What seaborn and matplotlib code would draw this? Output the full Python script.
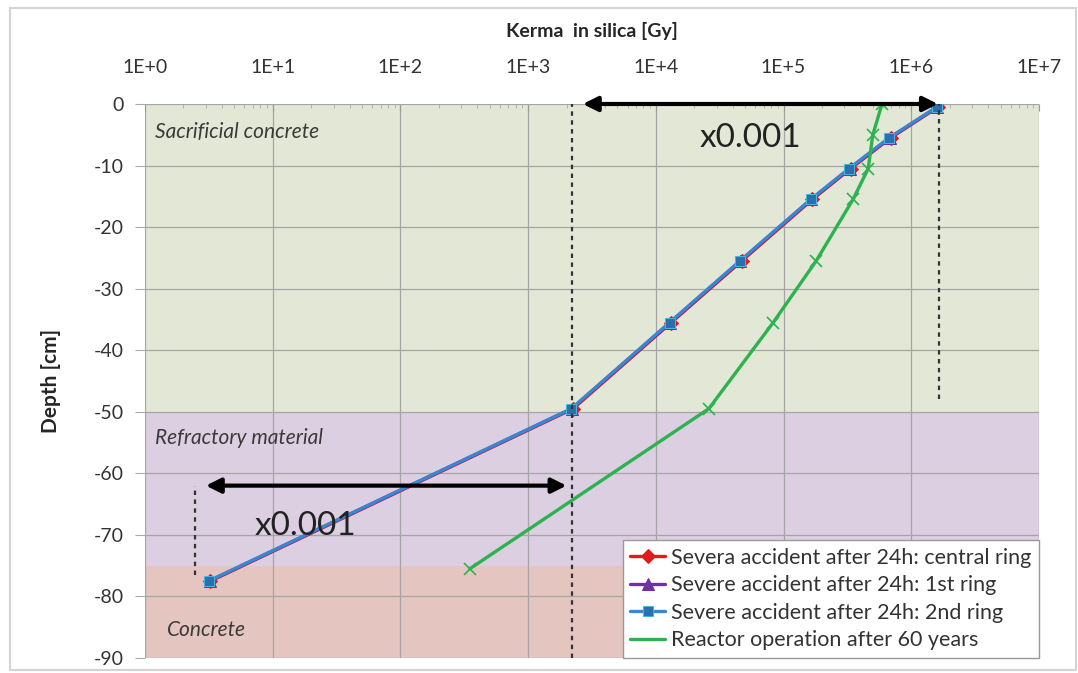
"""Kerma in silica vs depth through the core catcher layers."""
import numpy as np
import matplotlib
import seaborn as sns
from matplotlib import pyplot as plt
from matplotlib.patches import Rectangle
from matplotlib.ticker import FuncFormatter, LogLocator, MultipleLocator

sns.set_style("white")
plt.rcParams["font.family"] = ["Lato", "DejaVu Sans"]
plt.rcParams["axes.unicode_minus"] = False

# data
depth_central = [-0.5, -5.5, -10.5, -15.5, -25.5, -35.5, -49.5, -77.5]
kerma_central = [1.62e6, 6.9e5, 3.35e5, 1.68e5, 4.7e4, 1.32e4, 2.25e3, 3.25]
depth_ring1 = [-0.5, -5.5, -10.5, -15.5, -25.5, -35.5, -49.5, -77.5]
kerma_ring1 = [1.6e6, 6.8e5, 3.3e5, 1.65e5, 4.6e4, 1.3e4, 2.2e3, 3.2]
depth_ring2 = [-0.5, -5.5, -10.5, -15.5, -25.5, -35.5, -49.5, -77.5]
kerma_ring2 = [1.58e6, 6.7e5, 3.25e5, 1.63e5, 4.55e4, 1.28e4, 2.18e3, 3.15]
depth_reactor = [0, -5, -10.5, -15.5, -25.5, -35.5, -49.5, -75.5]
kerma_reactor = [5.9e5, 5.0e5, 4.6e5, 3.5e5, 1.8e5, 8.3e4, 2.6e4, 350]

kerma_ticks = [1, 1e1, 1e2, 1e3, 1e4, 1e5, 1e6, 1e7]
labels = [
    "Severa accident after 24h: central ring",
    "Severe accident after 24h: 1st ring",
    "Severe accident after 24h: 2nd ring",
    "Reactor operation after 60 years",
]
layers = [("Sacrificial concrete", 0, -50), ("Refractory material", -50, -75),
          ("Concrete", -75, -90)]
layer_colors = ["#e3e8d6", "#dccfe1", "#e5c5bf"]

fig = plt.figure(figsize=(10.78, 6.73), dpi=100)
ax = fig.add_axes([0.1345, 0.0223, 0.8293, 0.8232])

for (name, top, bottom), col in zip(layers, layer_colors):
    ax.axhspan(bottom, top, color=col, zorder=0, lw=0)

line_kw = dict(estimator=None, sort=False, ax=ax, linewidth=2.4)
sns.lineplot(x=kerma_central, y=depth_central, color="#e31a1c", marker="D",
             markersize=7, markeredgecolor="#e31a1c", label=labels[0], **line_kw)
sns.lineplot(x=kerma_ring1, y=depth_ring1, color="#7030a0", marker="^",
             markersize=8, markeredgecolor="#7030a0", label=labels[1], **line_kw)
sns.lineplot(x=kerma_ring2, y=depth_ring2, color="#3a86d0", marker="s",
             markersize=7, markerfacecolor="#2a6fae", markeredgecolor="#49b4e0",
             label=labels[2], **line_kw)
sns.lineplot(x=kerma_reactor, y=depth_reactor, color="#2cb24e", marker="x",
             markersize=8, markeredgecolor="#2cb24e", markeredgewidth=1.2,
             label=labels[3], **line_kw)

ax.set_xscale("log")
ax.set_xlim(1, 1e7)
ax.set_ylim(-90, 0)

# dashed guides and x0.001 arrows
guide_kw = dict(colors="#333333", linestyles=(0, (2, 2)), linewidth=1.6, zorder=3)
ax.vlines(2200, -90, 0, **guide_kw)
ax.vlines(1.65e6, -48, 0, **guide_kw)
ax.vlines(2.45, -76.5, -62, **guide_kw)
arrow_kw = dict(arrowstyle="<|-|>", color="black", lw=3, mutation_scale=22)
ax.annotate("", xy=(1.7e6, 0), xytext=(2550, 0), arrowprops=arrow_kw,
            annotation_clip=False, zorder=5)
ax.annotate("", xy=(2100, -62), xytext=(2.85, -62), arrowprops=arrow_kw, zorder=5)
ax.text(5.5e4, -5.5, "x0.001", fontsize=24, color="#222222", ha="center", va="center", zorder=6)
ax.text(18, -68.5, "x0.001", fontsize=24, color="#222222", ha="center", va="center", zorder=6)

for (name, top, bottom), xpos, ypos in zip(layers, [1.2, 1.2, 1.48], [-4.5, -54.3, -85.5]):
    ax.text(xpos, ypos, name, fontsize=15, style="italic", color="#3a3a3a",
            va="center", ha="left", zorder=6)

# axes styling
ax.xaxis.tick_top()
ax.xaxis.set_label_position("top")
ax.set_xticks(kerma_ticks)
ax.xaxis.set_minor_locator(LogLocator(base=10, subs=np.arange(2, 10), numticks=20))
ax.xaxis.set_major_formatter(FuncFormatter(lambda v, p: f"1E+{int(round(np.log10(v)))}"))
ax.yaxis.set_major_locator(MultipleLocator(10))
ax.tick_params(axis="x", which="major", direction="in", length=5, pad=20,
               labelsize=14, color="#999999", labelcolor="#333333")
ax.tick_params(axis="x", which="minor", direction="in", length=3, color="#aaaaaa")
ax.tick_params(axis="y", which="major", direction="out", length=7, pad=8, left=True,
               labelsize=14, color="#aaaaaa", labelcolor="#333333")
ax.set_xlabel("Kerma  in silica [Gy]", fontsize=14, fontweight="bold", labelpad=16)
ax.set_ylabel("Depth [cm]", fontsize=15, fontweight="bold", labelpad=24)
ax.grid(True, which="major", color="#a5a5a5", linewidth=0.9)
ax.set_axisbelow(True)
for s in ax.spines.values():
    s.set_visible(False)

leg = ax.legend(loc="lower right", bbox_to_anchor=(1.0, 0.0), borderaxespad=0,
                fontsize=15.5, frameon=True, fancybox=False, handlelength=1.6,
                handletextpad=0.3, borderpad=0.35, labelspacing=0.35)
leg.get_frame().set_edgecolor("#9a9a9a")
leg.get_frame().set_facecolor("white")
leg.get_frame().set_alpha(1)
leg.set_zorder(10)
leg.legend_handles[3].set_marker("")
for t in leg.get_texts():
    t.set_color("#333333")

# light outer frame as in the source image
fig.patches.append(Rectangle((10 / 1078, 3 / 673), 1066 / 1078, 662 / 673,
                             transform=fig.transFigure, fill=False,
                             edgecolor="#d4d4d4", linewidth=1.5))

fig.savefig("out.png", dpi=100)
